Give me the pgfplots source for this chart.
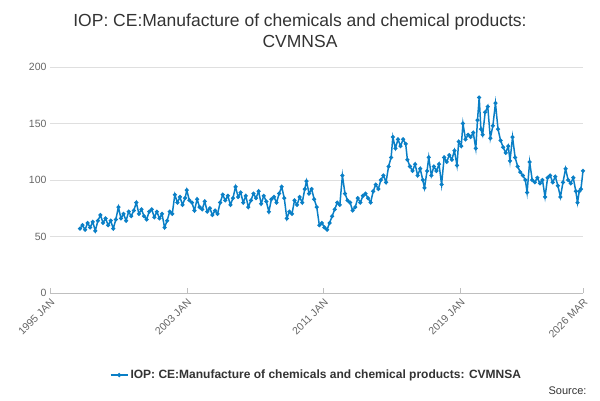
\documentclass[border=0pt]{standalone}
\usepackage{pgfplots}
\pgfplotsset{compat=1.18}
\usepackage{fontspec}
\setmainfont{Liberation Sans}
\definecolor{ser}{HTML}{0A7FC6}
\definecolor{tx}{HTML}{333333}
\definecolor{tk}{HTML}{666666}
\begin{document}
\begin{tikzpicture}[x=1pt,y=1pt]
\useasboundingbox (-50,-107) rectangle (550,293);
\begin{axis}[at={(0,0)},anchor=origin,scale only axis,width=533pt,height=226pt,
  xmin=1995,xmax=2026.17,ymin=0,ymax=200,
  xtick={1995,2003,2011,2019,2026.17},
  xticklabels={1995 JAN,2003 JAN,2011 JAN,2019 JAN,2026 MAR},
  x tick label style={rotate=45,anchor=north east,font=\fontsize{10.5}{12}\selectfont,text=tk},
  ytick={0,50,100,150,200},
  y tick label style={font=\fontsize{10.5}{12}\selectfont,text=tk},
  /pgf/number format/assume math mode=true,
  ymajorgrids,grid style={draw=gray!25},
  axis x line*=bottom, axis y line*=left,
  y axis line style={draw=none}, ytick style={draw=none},
  x axis line style={draw=gray!50},
  major tick length=5pt, xtick style={draw=gray!50},
  clip=false,
  legend style={at={(0.5,-107pt+25pt)},anchor=center,draw=none,font=\bfseries\fontsize{12}{14}\selectfont,text=tx,legend columns=1},
  ]
\addplot[ser,line width=1.5pt,mark=*,mark size=1.2pt] coordinates {
(1996.75,57)(1996.9,60)(1997.05,56)(1997.2,62)(1997.35,58)(1997.5,63)(1997.65,55)(1997.8,64)(1997.95,69)(1998.1,62)(1998.25,66)(1998.4,60)(1998.55,64)(1998.7,57)(1998.85,65)(1999.0,76)(1999.15,66)(1999.3,70)(1999.45,64)(1999.6,72)(1999.75,68)(1999.9,73)(2000.05,80)(2000.2,70)(2000.35,74)(2000.5,68)(2000.65,65)(2000.8,72)(2000.95,74)(2001.1,67)(2001.25,72)(2001.4,66)(2001.55,70)(2001.7,58)(2001.85,64)(2002.0,72)(2002.15,70)(2002.3,87)(2002.45,80)(2002.6,85)(2002.75,78)(2002.9,84)(2003.0,91)(2003.15,82)(2003.3,80)(2003.45,73)(2003.6,83)(2003.75,76)(2003.9,74)(2004.05,81)(2004.2,72)(2004.35,75)(2004.5,69)(2004.65,73)(2004.8,70)(2004.95,80)(2005.1,87)(2005.25,82)(2005.4,86)(2005.55,78)(2005.7,84)(2005.85,94)(2006.0,85)(2006.15,89)(2006.3,80)(2006.45,86)(2006.6,76)(2006.75,82)(2006.9,88)(2007.05,84)(2007.2,90)(2007.35,79)(2007.5,86)(2007.65,81)(2007.8,72)(2007.95,83)(2008.1,85)(2008.25,80)(2008.4,88)(2008.55,94)(2008.7,84)(2008.85,66)(2009.0,72)(2009.15,70)(2009.3,82)(2009.45,78)(2009.6,85)(2009.75,80)(2009.9,92)(2010.0,99)(2010.15,88)(2010.3,92)(2010.45,83)(2010.6,76)(2010.75,60)(2010.9,62)(2011.05,58)(2011.2,56)(2011.35,62)(2011.5,68)(2011.65,74)(2011.8,80)(2011.95,78)(2012.1,104)(2012.25,88)(2012.4,82)(2012.55,80)(2012.7,73)(2012.85,76)(2013.0,84)(2013.15,80)(2013.3,86)(2013.45,88)(2013.6,84)(2013.75,80)(2013.9,90)(2014.05,96)(2014.2,92)(2014.35,100)(2014.5,104)(2014.65,98)(2014.8,112)(2014.95,120)(2015.05,138)(2015.2,128)(2015.35,136)(2015.5,130)(2015.65,136)(2015.8,132)(2015.9,118)(2016.05,112)(2016.2,108)(2016.35,114)(2016.5,104)(2016.65,110)(2016.8,100)(2016.9,93)(2017.05,108)(2017.15,120)(2017.3,104)(2017.45,112)(2017.6,108)(2017.75,114)(2017.9,96)(2018.05,120)(2018.2,116)(2018.35,122)(2018.5,118)(2018.65,126)(2018.8,113)(2018.9,134)(2019.05,130)(2019.15,150)(2019.3,136)(2019.45,140)(2019.6,138)(2019.75,142)(2019.9,128)(2020.0,153)(2020.1,173)(2020.2,145)(2020.3,140)(2020.45,160)(2020.6,165)(2020.75,137)(2020.9,148)(2021.05,168)(2021.2,145)(2021.35,135)(2021.5,129)(2021.65,124)(2021.8,130)(2021.9,117)(2022.05,138)(2022.2,120)(2022.35,112)(2022.5,107)(2022.65,104)(2022.8,100)(2022.9,89)(2023.05,116)(2023.2,100)(2023.35,98)(2023.5,102)(2023.65,97)(2023.8,100)(2023.95,85)(2024.1,102)(2024.25,104)(2024.4,98)(2024.55,103)(2024.7,95)(2024.85,85)(2025.0,98)(2025.15,110)(2025.3,100)(2025.45,97)(2025.6,102)(2025.75,90)(2025.85,80)(2025.95,90)(2026.05,92)(2026.17,108)
};
\addlegendentry{IOP: CE:Manufacture of chemicals and chemical products: CVMNSA}
\end{axis}
\node[text=tx,font=\fontsize{17.5}{21}\selectfont,align=center] at (250,262) {IOP: CE:Manufacture of chemicals and chemical products:\\CVMNSA};
\node[text=tx,font=\fontsize{11}{13}\selectfont,anchor=east] at (540,-98) {Source:};
\end{tikzpicture}
\end{document}
